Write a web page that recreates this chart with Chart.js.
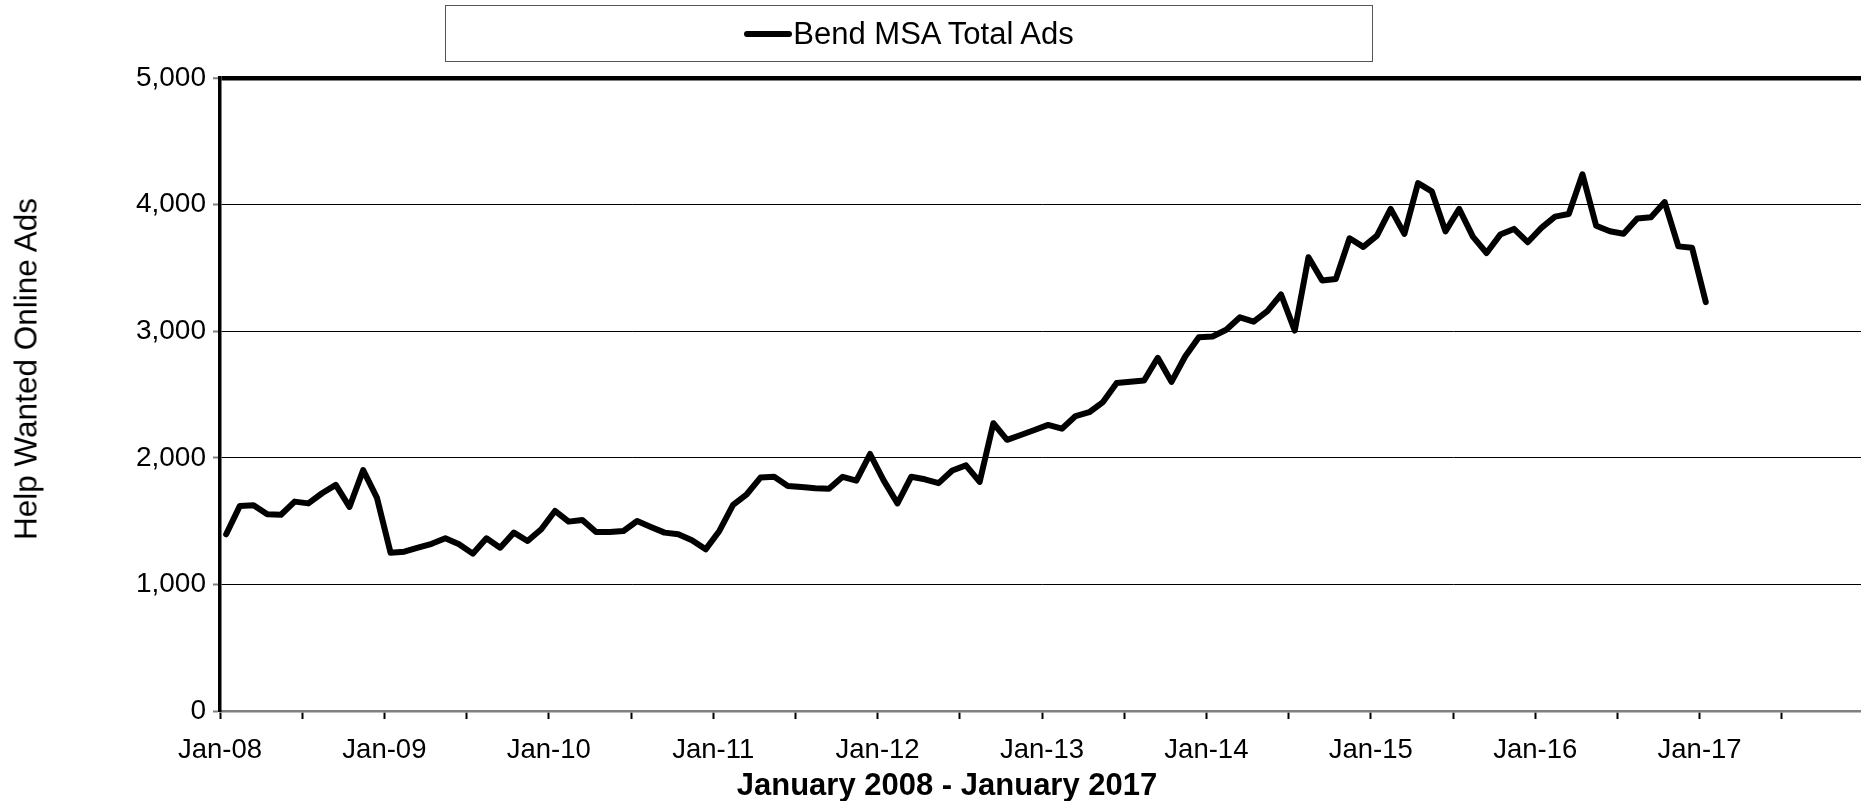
<!DOCTYPE html>
<html>
<head>
<meta charset="utf-8">
<script src="https://cdn.jsdelivr.net/npm/chart.js@4/dist/chart.umd.min.js"></script>
<style>
    html, body { margin: 0; padding: 0; background: #fff; overflow: hidden; }
    #wrap { position: relative; width: 1864px; height: 801px; font-family: 'Liberation Sans', Arial, sans-serif; color: #000; }
    #adsChart { position: absolute; left: 0; top: 0; }
    #legendBox {
        position: absolute; left: 445px; top: 5px; width: 926px; height: 55px;
        border: 1px solid #555; display: flex; align-items: center; justify-content: center;
        font-size: 31px;
    }
    #legendBox .swatch { display: inline-block; width: 48px; height: 6px; background: #000; border-radius: 3px; margin-right: 1px; }
    #yTitle {
        position: absolute; left: 26px; top: 369px; white-space: nowrap; font-size: 31.5px;
        transform: translate(-50%, -50%) rotate(-90deg);
    }
    #xTitle {
        position: absolute; left: 947px; top: 785px; white-space: nowrap; font-size: 31px; font-weight: bold;
        transform: translate(-50%, -50%);
    }
</style>
</head>
<body>
<div id="wrap">
    <canvas id="adsChart" width="1864" height="801"></canvas>
    <div id="legendBox"></div>
    <div id="yTitle">Help Wanted Online Ads</div>
    <div id="xTitle">January 2008 - January 2017</div>
</div>
<script>
// --- Data ---
const seriesLabel = 'Bend MSA Total Ads';
const yearLabels = ['Jan-08', 'Jan-09', 'Jan-10', 'Jan-11', 'Jan-12', 'Jan-13', 'Jan-14', 'Jan-15', 'Jan-16', 'Jan-17'];
const yTicks = [0, 1000, 2000, 3000, 4000, 5000];

// monthly totals, Jan-08 .. Jan-17
const ads2008 = [1396, 1620, 1625, 1554, 1550, 1654, 1640, 1720, 1786, 1612, 1903, 1686];
const ads2009 = [1250, 1258, 1290, 1321, 1364, 1317, 1243, 1364, 1290, 1409, 1343, 1436];
const ads2010 = [1580, 1496, 1509, 1414, 1414, 1422, 1501, 1454, 1409, 1396, 1349, 1277];
const ads2011 = [1422, 1628, 1712, 1844, 1850, 1778, 1770, 1760, 1755, 1850, 1820, 2030];
const ads2012 = [1820, 1640, 1850, 1830, 1800, 1900, 1940, 1810, 2273, 2142, 2180, 2220];
const ads2013 = [2260, 2230, 2330, 2360, 2440, 2590, 2600, 2610, 2790, 2600, 2800, 2953];
const ads2014 = [2958, 3011, 3110, 3075, 3158, 3290, 3005, 3584, 3400, 3413, 3734, 3666];
const ads2015 = [3755, 3966, 3769, 4170, 4105, 3789, 3966, 3747, 3618, 3763, 3808, 3703];
const ads2016 = [3816, 3905, 3926, 4240, 3833, 3790, 3770, 3890, 3900, 4020, 3670, 3660];
const ads2017 = [3230];

const adsValues = [].concat(ads2008, ads2009, ads2010, ads2011, ads2012, ads2013, ads2014, ads2015, ads2016, ads2017);

// months counted from Jan-08; each observation sits mid-month
const points = adsValues.map((v, i) => ({ x: i + 0.45, y: v }));

const fontFamily = "'Liberation Sans', Arial, sans-serif";

// --- Legend ---
document.getElementById('legendBox').innerHTML = `<span class="swatch"></span><span>${seriesLabel}</span>`;

// --- Chart ---
const ctx = document.getElementById('adsChart').getContext('2d');
new Chart(ctx, {
    type: 'line',
    data: {
        datasets: [{
            label: seriesLabel,
            data: points,
            borderColor: '#000000',
            borderWidth: 6,
            borderJoinStyle: 'round',
            borderCapStyle: 'round',
            pointRadius: 0,
            tension: 0,
            fill: false
        }]
    },
    options: {
        responsive: false,
        animation: false,
        devicePixelRatio: 1,
        layout: { padding: { top: 78, right: 0, bottom: 0, left: 0 } },
        plugins: {
            legend: { display: false },
            tooltip: { enabled: false }
        },
        scales: {
            x: {
                type: 'linear',
                min: 0,
                max: 120,
                afterFit: function (scale) { scale.height = 90; scale.paddingRight = 0; },
                border: { color: '#808080', width: 2.5 },
                grid: { drawOnChartArea: false, drawTicks: true, tickLength: 8, tickColor: '#000', tickWidth: 2 },
                ticks: {
                    stepSize: 6,
                    autoSkip: false,
                    maxRotation: 0,
                    padding: 15,
                    color: '#000',
                    font: { family: fontFamily, size: 27.5 },
                    callback: function (value) {
                        if (value % 12 !== 0) return '';
                        return yearLabels[value / 12] || '';
                    }
                }
            },
            y: {
                min: 0,
                max: 5000,
                afterFit: function (scale) { scale.width = 220; },
                afterBuildTicks: function (scale) { scale.ticks = yTicks.map(v => ({ value: v })); },
                border: { color: '#000', width: 3.5 },
                grid: {
                    color: function (c) { return c.tick && c.tick.value === 0 ? 'rgba(0,0,0,0)' : '#000'; },
                    lineWidth: function (c) { return c.tick && c.tick.value === 5000 ? 4.5 : 1; },
                    tickLength: 7,
                    tickColor: '#808080',
                    tickWidth: 2
                },
                ticks: {
                    padding: 7,
                    color: '#000',
                    font: { family: fontFamily, size: 28 },
                    callback: function (value) { return value.toLocaleString('en-US'); }
                }
            }
        }
    }
});
</script>
</body>
</html>
